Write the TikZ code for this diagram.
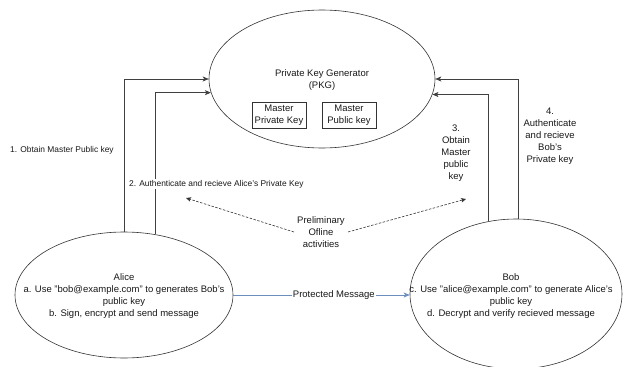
\documentclass[tikz,border=0pt]{standalone}
\usepackage{fontspec}
\setmainfont{Liberation Sans}
\usetikzlibrary{shapes.geometric,arrows.meta}
\begin{document}
\begin{tikzpicture}[x=1pt,y=-1pt,
  ell/.style={draw=black!80, ellipse, inner sep=0pt, line width=0.6pt},
  txt/.style={font=\fontsize{9.5}{12}\selectfont, text=black!90, align=center, inner sep=0pt},
  smalltxt/.style={font=\fontsize{8.4}{11}\selectfont, text=black!90, inner sep=0pt},
  keybox/.style={draw=black!80, line width=0.6pt, txt, minimum width=54pt, minimum height=26pt},
  conn/.style={draw=black!75, line width=0.7pt, -{Stealth[length=6pt,width=5pt,inset=1.5pt]}},
  dasharrow/.style={draw=black!80, line width=0.6pt, dashed, dash pattern=on 2.5pt off 1.5pt, -{Stealth[length=5pt,width=4.5pt,inset=1.2pt]}},
  msgarrow/.style={draw={rgb,255:red,108;green,142;blue,191}, line width=0.7pt, -{Stealth[length=6pt,width=5pt,inset=1.5pt]}}
]
\useasboundingbox (0,0) rectangle (625,367);
% PKG
\node[ell, minimum width=226pt, minimum height=138pt] (pkg) at (322,79) {};
\node[txt] (pkgt) at (322,80.5) {Private Key Generator\\(PKG)};
\node[keybox] (mpriv) at (279,115) {Master\\Private Key};
\node[keybox] (mpub) at (349,115) {Master\\Public key};
% Alice
\node[ell, minimum width=218pt, minimum height=126pt] (alice) at (124,295) {};
\node[txt] (alicet) at (124,296) {Alice\\a. Use "bob@example.com" to generates Bob's\\public key\\b. Sign, encrypt and send message};
% Bob
\node[ell, minimum width=212pt, minimum height=150pt] (bob) at (516,294) {};
\node[txt] (bobt) at (511,296) {Bob\\c. Use "alice@example.com" to generate Alice's\\public key\\d. Decrypt and verify recieved message};
% connectors to PKG
\draw[conn] (alice.north) |- (pkg.west);
\draw[conn] (alice.63) |- (pkg.187);
\draw[conn] (bob.111) |- (pkg.-8.5);
\draw[conn] (bob.88) |- (pkg.east);
% labels
\node[smalltxt, anchor=west] (l1) at (10,150) {1. Obtain Master Public key};
\node[smalltxt, anchor=west, fill=white, inner sep=1pt] (l2) at (128,184) {2. Authenticate and recieve Alice's Private Key};
\node[txt] (l3) at (456,153.5) {3.\\Obtain\\Master\\public\\key};
\node[txt] (l4) at (550,136) {4.\\Authenticate\\and recieve\\Bob's\\Private key};
% preliminary
\node[txt] (pre) at (321,232) {Preliminary\\Ofline\\activities};
\coordinate (preL) at (186,198);
\coordinate (preR) at (466,199);
\draw[dasharrow] (294,232) -- (preL);
\draw[dasharrow] (348,232) -- (preR);
% message
\draw[msgarrow] (alice.east) -- node[txt, fill=white, inner sep=1pt, pos=0.57] (pm) {Protected Message} (alice.east -| bob.west);
\end{tikzpicture}
\end{document}
